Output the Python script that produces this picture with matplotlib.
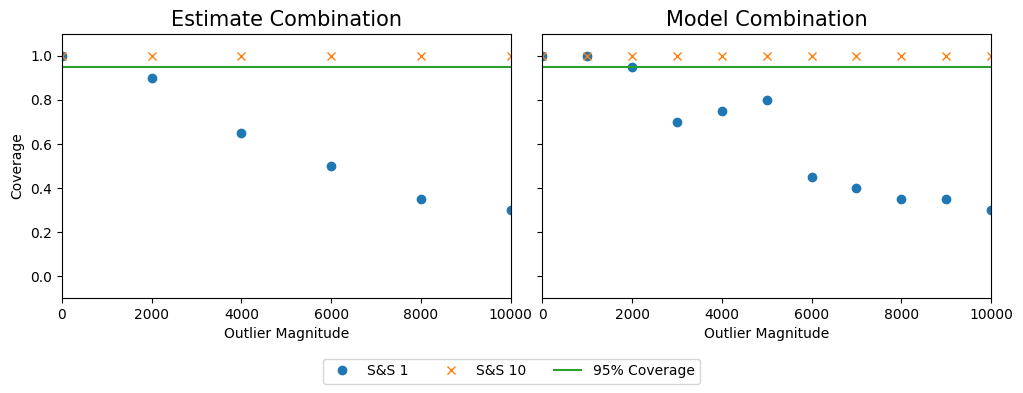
import matplotlib
matplotlib.use("Agg")
import matplotlib.pyplot as plt

est_x = [0, 2000, 4000, 6000, 8000, 10000]
est_ss1 = [1.0, 0.9, 0.65, 0.5, 0.35, 0.3]
est_ss10 = [1.0, 1.0, 1.0, 1.0, 1.0, 1.0]

mod_x = [0, 1000, 2000, 3000, 4000, 5000, 6000, 7000, 8000, 9000, 10000]
mod_ss1 = [1.0, 1.0, 0.95, 0.7, 0.75, 0.8, 0.45, 0.4, 0.35, 0.35, 0.3]
mod_ss10 = [1.0] * 11

titles = ["Estimate Combination", "Model Combination"]
coverage = 0.95

fig, axes = plt.subplots(1, 2, figsize=(10.23, 3.93), dpi=100, sharey=True)
fig.subplots_adjust(left=0.0606, right=0.9687, top=0.9135, bottom=0.2417, wspace=0.071)

for ax, x, s1, s10, t in zip(axes, [est_x, mod_x], [est_ss1, mod_ss1], [est_ss10, mod_ss10], titles):
    ax.plot(x, s1, 'o', color='#1f77b4', label='S&S 1')
    ax.plot(x, s10, 'x', color='#ff7f0e', label='S&S 10')
    ax.axhline(coverage, color='#2ca02c', label='95% Coverage')
    ax.set_xlim(0, 10000)
    ax.set_ylim(-0.1, 1.1)
    ax.set_xlabel('Outlier Magnitude')
    ax.set_title(t, fontsize=15)

axes[0].set_ylabel('Coverage')
handles, labels = axes[0].get_legend_handles_labels()
fig.legend(handles, labels, loc='lower center', ncol=3, bbox_to_anchor=(0.5, 0.006))
fig.savefig('out.png', dpi=100)
